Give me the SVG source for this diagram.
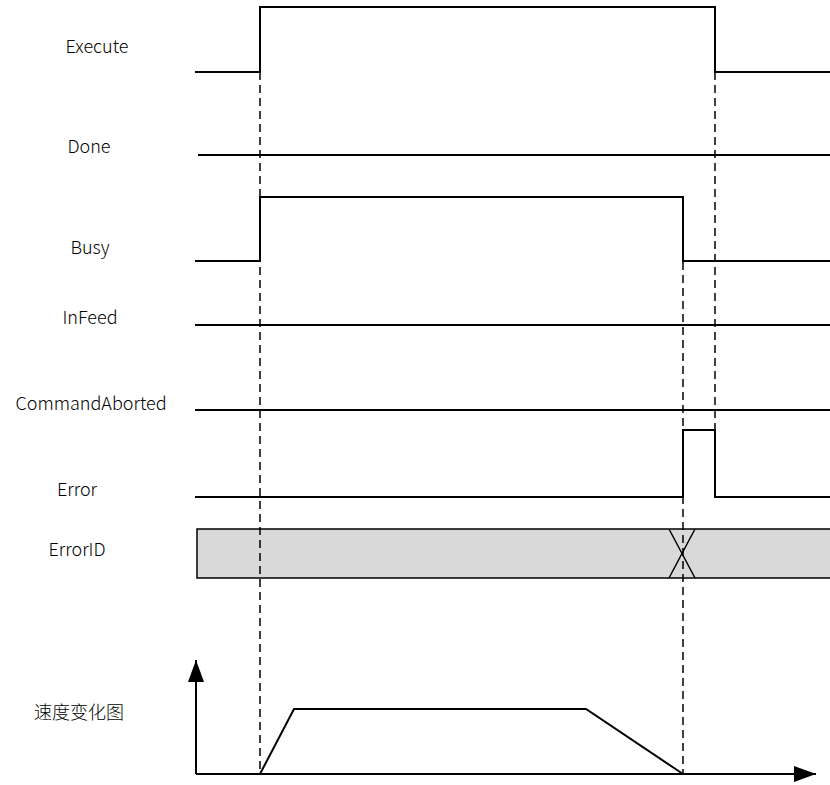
<svg xmlns="http://www.w3.org/2000/svg" width="830" height="785" viewBox="0 0 830 785">
<style>
.sig{fill:none;stroke:#000;stroke-width:2}
.dash{fill:none;stroke:#000;stroke-width:1.5;stroke-dasharray:8 5}
.lbl{font-family:"Noto Sans CJK SC","Noto Sans",sans-serif;font-size:18px;font-weight:300;fill:#000;text-anchor:middle}
</style>
<defs>
<marker id="ah" viewBox="0 0 10 10" refX="10" refY="5" markerWidth="22" markerHeight="16" markerUnits="userSpaceOnUse" orient="auto" preserveAspectRatio="none">
<path d="M0,0 L10,5 L0,10 Z" fill="#000"/>
</marker>
</defs>
<rect width="830" height="785" fill="#fff"/>
<g id="labels">
<text class="lbl" x="97" y="53">Execute</text>
<text class="lbl" x="89" y="153">Done</text>
<text class="lbl" x="90" y="254">Busy</text>
<text class="lbl" x="90" y="324">InFeed</text>
<text class="lbl" x="91" y="410">CommandAborted</text>
<text class="lbl" x="77" y="496">Error</text>
<text class="lbl" x="77" y="556">ErrorID</text>
<text class="lbl" x="79" y="719">速度变化图</text>
</g>
<g id="execute"><path class="sig" d="M195,72 H260 V7 H715 V72 H830"/></g>
<g id="done"><path class="sig" d="M198,155 H830"/></g>
<g id="busy"><path class="sig" d="M195,261 H260 V197 H683 V261 H830"/></g>
<g id="infeed"><path class="sig" d="M195,325 H830"/></g>
<g id="commandaborted"><path class="sig" d="M195,410 H830"/></g>
<g id="error"><path class="sig" d="M195,497 H683 V430 H715 V497 H830"/></g>
<g id="errorid">
<rect x="197" y="529" width="640" height="49" fill="#d9d9d9" stroke="#000" stroke-width="1.5"/>
<path d="M669,529 L695,578 M695,529 L669,578" stroke="#000" stroke-width="1.5" fill="none"/>
</g>
<g id="speed">
<path class="sig" d="M196,774 V660" marker-end="url(#ah)"/>
<path class="sig" d="M196,774 H816" marker-end="url(#ah)"/>
<path class="sig" d="M260,774 L294,709 H586 L683,774"/>
</g>
<g id="connectors">
<path class="dash" d="M260,72 V775"/>
<path class="dash" d="M683,262 V775"/>
<path class="dash" d="M715,72 V430"/>
</g>
</svg>
